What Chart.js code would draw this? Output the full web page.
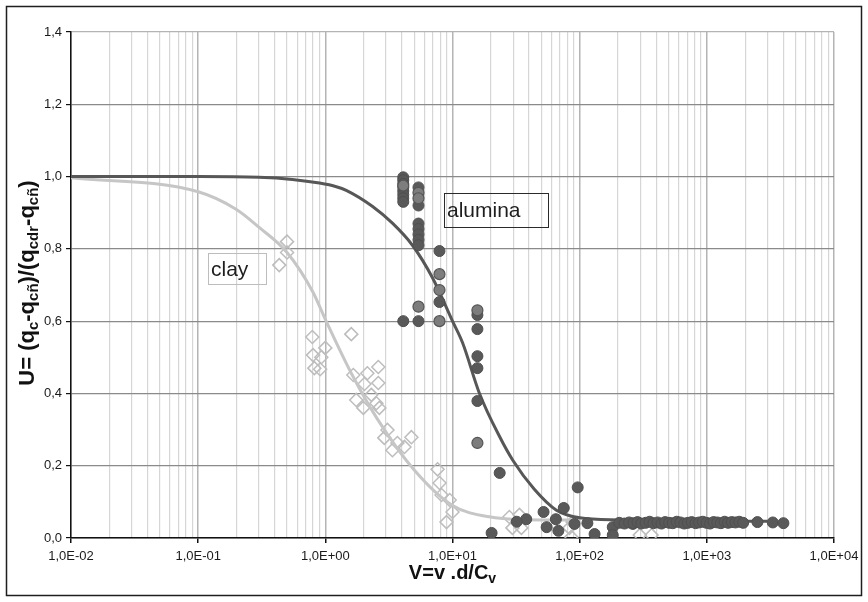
<!DOCTYPE html>
<html>
<head>
<meta charset="utf-8">
<script src="https://cdn.jsdelivr.net/npm/chart.js@4/dist/chart.umd.min.js"></script>
<style>
  html, body { margin: 0; padding: 0; background: #fff; }
  #wrap { width: 868px; height: 602px; }
</style>
</head>
<body>
<div id="wrap"><canvas id="c" width="868" height="602"></canvas></div>
<script>
// Tick labels
const xTickValues = [1e-2, 1e-1, 1e0, 1e1, 1e2, 1e3, 1e4];
const xTickLabels = ['1,0E-02', '1,0E-01', '1,0E+00', '1,0E+01', '1,0E+02', '1,0E+03', '1,0E+04'];
const yTickValues = [0, 0.2, 0.4, 0.6, 0.8, 1.0, 1.2, 1.4];
const yTickLabels = ['0,0', '0,2', '0,4', '0,6', '0,8', '1,0', '1,2', '1,4'];

// Fitted curves
const aluminaFitV = [0.01, 0.1, 0.3, 0.55, 0.9, 1.22, 1.46, 2.34, 3.37, 4.84, 6.96, 10, 12, 16.3, 23.5, 29.7, 44, 65.7, 100, 206, 500, 1000, 3000];
const aluminaFitU = [1.0, 1.0, 0.998, 0.992, 0.982, 0.972, 0.962, 0.918, 0.871, 0.81, 0.72, 0.60, 0.54, 0.40, 0.28, 0.216, 0.135, 0.077, 0.056, 0.05, 0.048, 0.047, 0.046];
const clayFitV = [0.01, 0.1, 0.2, 0.3, 0.5, 0.8, 1.0, 1.6, 2.6, 5.0, 10, 20, 50, 100];
const clayFitU = [0.997, 0.958, 0.909, 0.86, 0.79, 0.68, 0.605, 0.456, 0.326, 0.188, 0.09, 0.058, 0.05, 0.05];

// Measured points: alumina (dark markers)
const aluminaV = [4.1, 4.1, 4.1, 4.1, 4.1, 4.1, 4.1, 4.1, 4.1,
  5.4, 5.4, 5.4, 5.4, 5.4, 5.4, 5.4, 5.4,
  7.9, 7.9, 15.7, 15.7, 15.7, 15.7, 15.7,
  23.5, 20.3, 96.5, 52, 75, 55, 65, 68, 91, 38, 32, 115, 131, 182, 182, 262,
  205, 225, 245, 265, 285, 305, 330, 355, 380, 410, 440, 470, 505, 540, 580, 620, 665, 710, 760, 815, 870, 930, 995, 1060, 1130, 1210, 1290, 1380, 1470, 1570, 1680, 1800, 1930, 2500, 3300, 4000];
const aluminaU = [0.998, 0.99, 0.98, 0.97, 0.96, 0.95, 0.94, 0.93, 0.60,
  0.97, 0.92, 0.87, 0.855, 0.84, 0.825, 0.81, 0.60,
  0.794, 0.653, 0.617, 0.578, 0.503, 0.47, 0.379,
  0.18, 0.014, 0.14, 0.072, 0.083, 0.03, 0.052, 0.02, 0.039, 0.052, 0.045, 0.041, 0.011, 0.03, 0.008, 0.039,
  0.042, 0.040, 0.043, 0.041, 0.044, 0.040, 0.042, 0.045, 0.041, 0.043, 0.040, 0.044, 0.042, 0.041, 0.045, 0.043, 0.040, 0.042, 0.044, 0.041, 0.043, 0.045, 0.042, 0.040, 0.044, 0.043, 0.041, 0.045, 0.042, 0.044, 0.043, 0.045, 0.042, 0.044, 0.043, 0.041];
// Measured points: alumina (light markers)
const aluminaLightV = [4.1, 5.4, 5.4, 5.4, 7.9, 7.9, 7.9, 15.7, 15.7];
const aluminaLightU = [0.975, 0.955, 0.94, 0.64, 0.73, 0.686, 0.60, 0.63, 0.263];

// Measured points: clay
const clayV = [0.50, 0.50, 0.434, 0.79, 0.80, 0.93, 1.0, 0.82, 0.91, 1.60, 1.66, 2.03, 2.14, 2.61, 2.61, 1.75, 1.99, 2.30, 2.52, 2.66, 3.08, 2.91, 3.37, 3.69, 4.75, 4.19, 7.63, 7.91, 8.2, 9.5, 10, 8.97, 28, 33.6, 29.6, 34.8, 83, 88, 86, 297, 368];
const clayU = [0.82, 0.79, 0.755, 0.556, 0.506, 0.50, 0.526, 0.47, 0.467, 0.564, 0.451, 0.426, 0.456, 0.473, 0.429, 0.382, 0.36, 0.396, 0.373, 0.36, 0.299, 0.277, 0.243, 0.263, 0.279, 0.252, 0.19, 0.152, 0.119, 0.105, 0.072, 0.044, 0.058, 0.064, 0.028, 0.028, 0.028, 0.044, 0.003, 0.008, 0.008];

// Axis titles as [text, subscript?] runs
const xTitleRuns = [['V=v .d/C', false], ['v', true]];
const yTitleRuns = [['U= (q', false], ['c', true], ['-q', false], ['cñ', true], [')/(q', false], ['cdr', true], ['-q', false], ['cñ', true], [')', false]];

const pts = (xs, ys) => xs.map((x, i) => ({ x, y: ys[i] }));

const FONT = "'Liberation Sans', Arial, sans-serif";

// Outer frame, series labels, axis titles with subscripts
const decor = {
  id: 'decor',
  afterDraw(chart) {
    const ctx = chart.ctx;
    ctx.save();
    ctx.strokeStyle = '#1e1e1e';
    ctx.lineWidth = 1.5;
    ctx.strokeRect(6.5, 6.5, 855, 589);

    // series labels
    ctx.font = '21px ' + FONT;
    ctx.textBaseline = 'middle';
    ctx.textAlign = 'left';
    ctx.lineWidth = 1;
    ctx.strokeStyle = '#bdbdbd';
    ctx.strokeRect(208.5, 253.5, 58, 31);
    ctx.fillStyle = '#1e1e1e';
    ctx.fillText('clay', 211, 270);
    ctx.strokeStyle = '#2a2a2a';
    ctx.strokeRect(444.5, 193.5, 104, 34);
    ctx.fillText('alumina', 447, 211);

    const measure = (runs, big, small) => runs.reduce((w, r) => { ctx.font = r[1] ? small : big; return w + ctx.measureText(r[0]).width; }, 0);
    const drawRuns = (runs, big, small, x0, y0, drop) => {
      let x = x0;
      runs.forEach(r => {
        ctx.font = r[1] ? small : big;
        ctx.fillText(r[0], x, r[1] ? y0 + drop : y0);
        x += ctx.measureText(r[0]).width;
      });
    };
    ctx.fillStyle = '#111';
    ctx.textBaseline = 'middle';

    const ca = chart.chartArea;
    const xb = 'bold 20px ' + FONT, xs = 'bold 14px ' + FONT;
    const xw = measure(xTitleRuns, xb, xs);
    drawRuns(xTitleRuns, xb, xs, (ca.left + ca.right) / 2 - xw / 2, 573, 6);

    const yb = 'bold 22px ' + FONT, ys = 'bold 15px ' + FONT;
    const yw = measure(yTitleRuns, yb, ys);
    ctx.translate(28, 283);
    ctx.rotate(-Math.PI / 2);
    drawRuns(yTitleRuns, yb, ys, -yw / 2, 0, 6);
    ctx.restore();
  }
};

// all 1..9 x 10^n positions for the log grid
const logGrid = [];
for (let e = -2; e <= 4; e++) {
  for (let m = 1; m <= 9; m++) {
    if (e === 4 && m > 1) break;
    logGrid.push({ value: m * Math.pow(10, e), major: m === 1 });
  }
}

new Chart(document.getElementById('c'), {
  type: 'scatter',
  data: {
    datasets: [
      {
        label: 'alumina fit', data: pts(aluminaFitV, aluminaFitU), showLine: true,
        borderColor: '#575757', borderWidth: 3, pointRadius: 0, cubicInterpolationMode: 'monotone', order: 2
      },
      {
        label: 'clay fit', data: pts(clayFitV, clayFitU), showLine: true,
        borderColor: '#c6c6c6', borderWidth: 3, pointRadius: 0, cubicInterpolationMode: 'monotone', order: 3
      },
      {
        label: 'clay', data: pts(clayV, clayU), pointStyle: 'rectRot', pointRadius: 6.5,
        borderColor: '#bdbdbd', borderWidth: 1.5, backgroundColor: 'rgba(255,255,255,0)', order: 4
      },
      {
        label: 'alumina', data: pts(aluminaV, aluminaU), pointStyle: 'circle', pointRadius: 5.5,
        borderColor: '#4f4f4f', borderWidth: 1, backgroundColor: '#595959', order: 1
      },
      {
        label: 'alumina b', data: pts(aluminaLightV, aluminaLightU), pointStyle: 'circle', pointRadius: 5.5,
        borderColor: '#555555', borderWidth: 1.2, backgroundColor: '#7d7d7d', order: 0
      }
    ]
  },
  options: {
    responsive: false,
    animation: false,
    events: [],
    layout: { padding: { left: 0, right: 34, top: 32, bottom: 0 } },
    plugins: { legend: { display: false }, tooltip: { enabled: false } },
    scales: {
      x: {
        type: 'logarithmic',
        min: 1e-2, max: 1e4,
        afterBuildTicks: (s) => { s.ticks = logGrid.map(t => ({ value: t.value, major: t.major })); },
        afterFit: (s) => { s.height = 64; s.paddingLeft = 0; s.paddingRight = 0; },
        border: { color: '#111', width: 1.5 },
        grid: {
          color: (c) => (c.tick && c.tick.major) ? '#b4b4b4' : '#d6d6d6',
          lineWidth: (c) => (c.tick && c.tick.major) ? 1.5 : 1.2,
          tickColor: (c) => (c.tick && c.tick.major) ? '#111' : 'rgba(0,0,0,0)',
          tickLength: 5
        },
        ticks: {
          autoSkip: false, maxRotation: 0, minRotation: 0, padding: 6,
          color: '#1a1a1a', font: { family: FONT, size: 13 },
          callback: (v) => { const i = xTickValues.findIndex(t => Math.abs(t - v) / t < 1e-6); return i >= 0 ? xTickLabels[i] : ''; }
        }
      },
      y: {
        min: 0, max: 1.4,
        afterBuildTicks: (s) => { s.ticks = yTickValues.map(v => ({ value: v })); },
        afterFit: (s) => { s.width = 71; s.paddingTop = 0; s.paddingBottom = 0; },
        border: { color: '#111', width: 1.5 },
        grid: {
          color: (c) => (c.tick && c.tick.value >= 1.39) ? '#b4b4b4' : '#8a8a8a',
          lineWidth: 1.2,
          tickColor: '#111',
          tickLength: 5
        },
        ticks: {
          padding: 4, color: '#1a1a1a', font: { family: FONT, size: 13 },
          callback: (v) => { const i = yTickValues.findIndex(t => Math.abs(t - v) < 1e-6); return i >= 0 ? yTickLabels[i] : ''; }
        }
      }
    }
  },
  plugins: [decor]
});
</script>
</body>
</html>
